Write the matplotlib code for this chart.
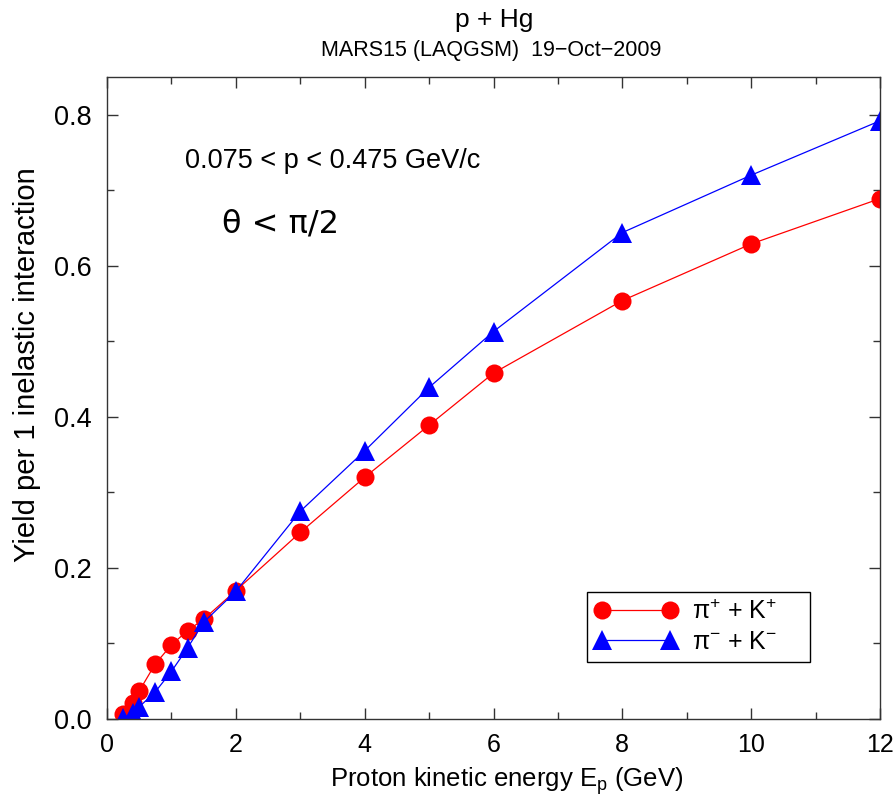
import matplotlib
matplotlib.use("Agg")
import matplotlib.pyplot as plt
from matplotlib.ticker import MultipleLocator

plt.rcParams['font.family'] = ['Liberation Sans', 'DejaVu Sans']
plt.rcParams['mathtext.fontset'] = 'custom'
plt.rcParams['mathtext.rm'] = 'Liberation Sans'
plt.rcParams['mathtext.it'] = 'Liberation Sans:italic'
plt.rcParams['mathtext.bf'] = 'Liberation Sans:bold'

# Data
energy = [0.25, 0.4, 0.5, 0.75, 1.0, 1.25, 1.5, 2, 3, 4, 5, 6, 8, 10, 12]
pos_yield = [0.007, 0.021, 0.037, 0.073, 0.098, 0.117, 0.132, 0.170,
             0.247, 0.320, 0.389, 0.458, 0.554, 0.629, 0.689]
neg_yield = [0.001, 0.008, 0.016, 0.036, 0.063, 0.094, 0.128, 0.169,
             0.275, 0.355, 0.439, 0.513, 0.644, 0.720, 0.792]
pos_label = r'π$^{+}$ + K$^{+}$'
neg_label = r'π$^{-}$ + K$^{-}$'

fig = plt.figure(figsize=(8.96, 7.97), dpi=100)
ax = fig.add_axes([107/896, 1-719/797, (880-107)/896, (719-77)/797])

ax.plot(energy, pos_yield, color='red', lw=0.9, marker='o', ms=13,
        markeredgewidth=0, label=pos_label)
ax.plot(energy, neg_yield, color='blue', lw=0.9, marker='^', ms=14,
        markeredgewidth=0, label=neg_label)

ax.set_xlim(0, 12)
ax.set_ylim(0, 0.85)
ax.xaxis.set_major_locator(MultipleLocator(2))
ax.xaxis.set_minor_locator(MultipleLocator(1))
ax.yaxis.set_major_locator(MultipleLocator(0.2))
ax.yaxis.set_minor_locator(MultipleLocator(0.1))
ax.yaxis.set_major_formatter(matplotlib.ticker.FormatStrFormatter('%.1f'))
ax.tick_params(which='both', direction='in', top=True, right=True, width=1.0, color='#333333')
ax.tick_params(which='major', length=8)
ax.tick_params(which='minor', length=5)
ax.tick_params(axis='x', labelsize=18, pad=10)
ax.tick_params(axis='y', labelsize=19.5, pad=11)
for s in ax.spines.values():
    s.set_linewidth(1.0)
    s.set_color('#333333')

ax.set_xlabel(r'Proton kinetic energy E$_{\mathrm{p}}$ (GeV)', fontsize=18.5, labelpad=6)
ax.xaxis.label.set_x((507-107)/773)
ax.set_ylabel('Yield per 1 inelastic interaction', fontsize=21, labelpad=9)
ax.yaxis.label.set_y((719-365)/642)

ax.text(1.21, 0.730, '0.075 < p < 0.475 GeV/c', fontsize=19.5, va='baseline', ha='left')
ax.text(1.79, 0.644, 'θ < π/2', fontsize=23, va='baseline', ha='left',
        family=['DejaVu Sans'])

fig.text(494/896, 1-27/797, 'p + Hg', fontsize=19, ha='center', va='baseline')
fig.text(491/896, 1-56/797, 'MARS15 (LAQGSM)  19\u2212Oct\u22122009', fontsize=15.5,
         ha='center', va='baseline')

leg = ax.legend(loc='upper left',
                bbox_to_anchor=((587-107)/773, (719-660)/642, (810-587)/773, (660-592)/642),
                mode='expand', numpoints=2, fontsize=18, handlelength=3.3,
                handletextpad=0.6, borderpad=0.3, labelspacing=0.25, fancybox=False,
                framealpha=1, edgecolor='black', borderaxespad=0)
leg.get_frame().set_linewidth(1.0)

fig.savefig('out.png', dpi=100)
